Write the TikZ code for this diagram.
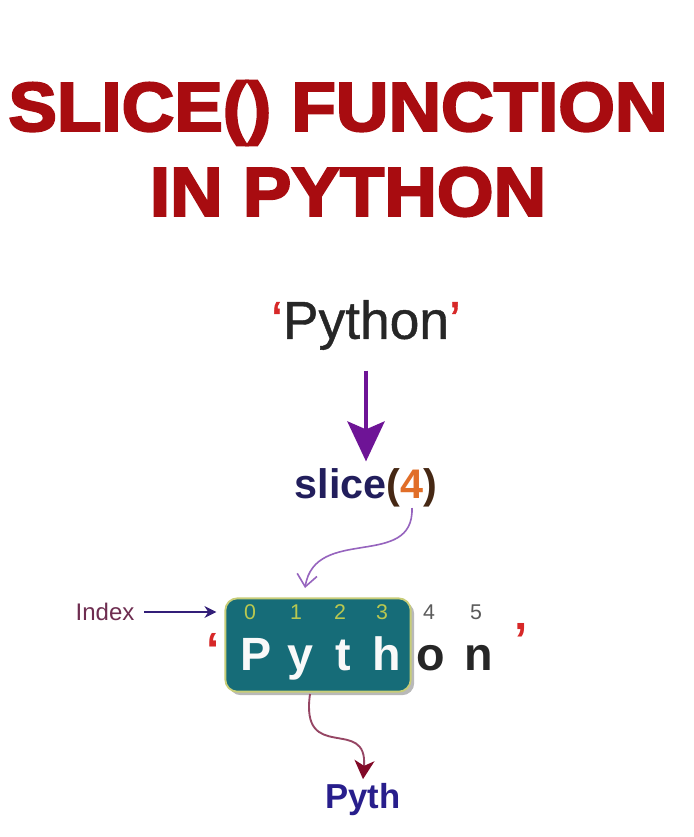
\documentclass[tikz,border=0pt]{standalone}
\usepackage{fontspec}
\setmainfont{Liberation Sans}
\newfontfamily\heavyfont[FakeBold=3]{Liberation Sans Bold}
\newfontfamily\mediumfont[FakeBold=0.8]{Liberation Sans}
\usepackage{tikz}
\usetikzlibrary{
  arrows.meta,
  positioning,
  shadows,
  calc
}
\definecolor{titlered}{RGB}{168,12,16}
\definecolor{quotered}{RGB}{215,40,40}
\definecolor{slicenavy}{RGB}{34,30,92}
\definecolor{sliceorange}{RGB}{225,110,40}
\definecolor{parenbrown}{RGB}{70,40,20}
\definecolor{arrowpurple}{RGB}{110,20,150}
\definecolor{curvepurple}{RGB}{150,100,190}
\definecolor{boxteal}{RGB}{22,108,120}
\definecolor{boxrim}{RGB}{200,205,120}
\definecolor{idxgreen}{RGB}{185,200,80}
\definecolor{idxgray}{RGB}{90,90,90}
\definecolor{indexplum}{RGB}{110,45,80}
\definecolor{indexblue}{RGB}{50,30,120}
\definecolor{curvemauve}{RGB}{150,70,100}
\definecolor{tipred}{RGB}{130,10,40}
\definecolor{pythblue}{RGB}{40,30,140}

\begin{document}
\begin{tikzpicture}[x=0.75pt, y=-0.75pt,
  title/.style={font=\heavyfont\fontsize{52}{56}\selectfont, text=titlered, inner sep=0pt},
  idx/.style={font=\fontsize{16}{18}\selectfont, inner sep=0pt},
  letter/.style={font=\bfseries\fontsize{35}{37}\selectfont, inner sep=0pt}]
  \useasboundingbox[fill=white] (0,0) rectangle (693,837);

  \node[title] (line1) at (338,113) {\scalebox{1.05}[1]{SLICE() FUNCTION}};
  \node[title] (line2) at (348,192) {\scalebox{1.05}[1]{IN PYTHON}};

  \node[font=\mediumfont\fontsize{40}{44}\selectfont, text=black!85] (word) at (366,325)
    {\textcolor{quotered}{‘}Python\textcolor{quotered}{’}};
  \node[font=\bfseries\fontsize{31}{33}\selectfont, text=slicenavy] (slice) at (366,488)
    {slice\textcolor{parenbrown}{(}\textcolor{sliceorange}{4}\textcolor{parenbrown}{)}};
  \draw[-{Stealth[length=30pt, width=28pt, inset=6pt]}, line width=2.4pt, arrowpurple, shorten <=12pt, shorten >=2pt] (word) -- (slice);

  \node[draw=boxrim, line width=1.4pt, fill=boxteal, rounded corners=9pt, drop shadow={opacity=0.55},
    minimum width=139pt, minimum height=70pt] (box) at (318,645) {};

  % index digits and letters
  \foreach \d/\x in {0/250,1/296,2/340,3/382}
    \node[idx, text=idxgreen] (d\d) at (\x,612) {\d};
  \foreach \d/\x in {4/429,5/476}
    \node[idx, text=idxgray] (d\d) at (\x,612) {\d};
  \foreach \c/\x/\n in {P/256/a,y/300/b,t/343/c,h/387/d}
    \node[letter, text=white!95!gray, anchor=base] (l\n) at (\x,670) {\c};
  \foreach \c/\x/\n in {o/431/e,n/479/f}
    \node[letter, text=black!85, anchor=base] (l\n) at (\x,670) {\c};
  \node[font=\bfseries\fontsize{36}{38}\selectfont, text=quotered] (qopen) at (213,650) {‘};
  \node[font=\bfseries\fontsize{36}{38}\selectfont, text=quotered] (qclose) at (521,640) {’};

  \node[font=\fontsize{18}{20}\selectfont, text=indexplum] (index) at (105,612) {Index};
  \draw[-{Stealth[length=9pt, width=9pt]}, line width=1.2pt, indexblue, shorten <=4pt, shorten >=6pt]
    (index.east) -- (box.west |- index);

  \coordinate (cstart) at (412,508);
  \coordinate (cend) at (305,588);
  \draw[-{Straight Barb[length=9pt, width=15pt]}, line width=1.2pt, curvepurple]
    (cstart) .. controls (414,570) and (315,525) .. (cend);

  \node[font=\bfseries\fontsize{26}{28}\selectfont, text=pythblue] (pyth) at (363,800) {Pyth};
  \coordinate (bstart) at (310,694);
  \draw[-{Stealth[length=14pt, width=15pt, inset=4pt, color=tipred]}, line width=1.4pt, curvemauve]
    (bstart) .. controls (300,765) and (368,715) .. (pyth.north);
\end{tikzpicture}
\end{document}
